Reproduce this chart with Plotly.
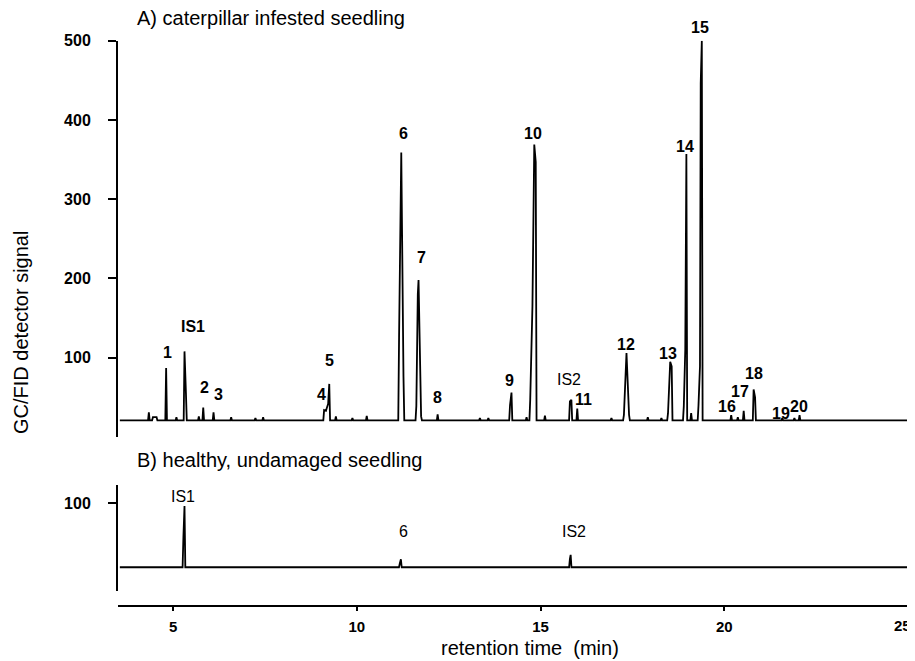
import plotly.graph_objects as go

# ---------------- data ----------------
# Panel A: caterpillar infested seedling (retention time in min, signal)
infested_rt = [4.34, 4.45, 4.55, 4.81, 5.09, 5.31, 5.35, 5.70, 5.82, 6.10, 6.58, 7.24, 7.45,
               9.11, 9.16, 9.22, 9.25, 9.43, 9.88, 10.27,
               11.15, 11.21, 11.27, 11.62, 11.66, 11.68, 11.75, 12.20, 13.35, 13.58,
               14.17, 14.21, 14.62, 14.72, 14.78, 14.83, 14.87, 15.12,
               15.80, 15.84, 16.00, 16.93, 17.27, 17.34, 17.41, 17.92, 18.29,
               18.47, 18.53, 18.57, 18.90, 18.94, 18.97, 19.10,
               19.30, 19.34, 19.36, 19.39, 20.19, 20.37, 20.53, 20.80, 20.84,
               21.58, 21.91, 22.05]
infested_signal = [31, 25, 25, 87, 25, 108, 54, 26, 37, 31, 25, 24, 25,
                   34, 33, 42, 67, 26, 24, 26.5,
                   126, 359, 76, 39, 180, 198, 26, 28.6, 24, 24,
                   40, 56, 25, 47.5, 165, 369, 347, 27,
                   45, 47, 36, 24, 28, 106, 28, 25, 24,
                   30, 95, 89, 39, 111, 357, 30,
                   40, 89, 446, 500, 27.7, 25, 33, 60, 50,
                   24, 24, 27.7]
infested_baseline = 21.0

# Panel B: healthy, undamaged seedling
healthy_rt = [5.28, 5.31, 11.17, 11.20, 15.80, 15.82]
healthy_signal = [57, 96.6, 24, 29.4, 30, 35]
healthy_baseline = 19.3

run_start, run_end = 3.55, 25.0
peak_halfwidth = 0.022  # min

# peak labels
labels_a = ["1", "IS1", "2", "3", "4", "5", "6", "7", "8", "9", "10", "IS2", "11",
            "12", "13", "14", "15", "16", "17", "18", "19", "20"]
labels_a_rt = [4.84, 5.53, 5.85, 6.24, 9.05, 9.27, 11.27, 11.77, 12.20, 14.15, 14.80, 15.77,
               16.16, 17.34, 18.47, 18.92, 19.35, 20.08, 20.44, 20.80, 21.55, 22.03]
labels_a_signal = [107, 139, 63, 54, 54, 96, 383, 227, 50, 71, 383, 73,
                   47, 117, 105, 367, 517, 38, 57, 80, 30, 38]

labels_b = ["IS1", "6", "IS2"]
labels_b_rt = [5.28, 11.27, 15.90]
labels_b_signal = [108, 64, 64]

y_ticks_a = [100, 200, 300, 400, 500]
y_ticks_b = [100]
x_ticks = [5, 10, 15, 20, 25]
x_tick_text = ["5", "10", "15", "20", "25"]

y_range_a = [0, 500]
y_range_b = [-10.7, 123.1]
x_range = [3.5, 25.002]


def chromatogram(rts, sigs, base):
    xs, ys = [run_start], [base]
    i, n = 0, len(rts)
    while i < n:
        j = i
        while j + 1 < n and rts[j + 1] - rts[j] < 0.1:
            j += 1
        xs.append(rts[i] - peak_halfwidth); ys.append(base)
        for k in range(i, j + 1):
            xs.append(rts[k]); ys.append(sigs[k])
        xs.append(rts[j] + peak_halfwidth); ys.append(base)
        i = j + 1
    xs.append(run_end); ys.append(base)
    return xs, ys


FONT = "Liberation Sans, Arial, sans-serif"
OFF = 8                      # default page body margin
W, H = 915 - OFF, 661 - OFF  # figure size so that the page fits the window
L, R = 118 - OFF, 915 - 908  # plot area spans window x 118..908


def px_x(p):
    """window pixel x -> paper x"""
    return (p - OFF - L) / (W - L - R)


def px_y(p):
    """window pixel y -> paper y"""
    return (H - (p - OFF)) / H


dom_a = [px_y(437), px_y(40.7)]
dom_b = [px_y(591), px_y(485)]
px_per_unit_a = (437 - 40.7) / (y_range_a[1] - y_range_a[0])

fig = go.Figure()
xa, ya = chromatogram(infested_rt, infested_signal, infested_baseline)
fig.add_trace(go.Scatter(x=xa, y=ya, mode="lines", line=dict(color="black", width=1.8),
                         xaxis="x", yaxis="y", showlegend=False, hoverinfo="skip",
                         cliponaxis=False))
xb, yb = chromatogram(healthy_rt, healthy_signal, healthy_baseline)
fig.add_trace(go.Scatter(x=xb, y=yb, mode="lines", line=dict(color="black", width=1.8),
                         xaxis="x2", yaxis="y2", showlegend=False, hoverinfo="skip",
                         cliponaxis=False))

annotations = []
for t, x, y in zip(labels_a, labels_a_rt, labels_a_signal):
    bold = t != "IS2"
    y_in = min(y, y_range_a[1])
    annotations.append(dict(x=x, y=y_in, xref="x", yref="y",
                            yshift=(y - y_in) * px_per_unit_a,
                            text=f"<b>{t}</b>" if bold else t,
                            showarrow=False, font=dict(family=FONT, size=16, color="black"),
                            xanchor="center", yanchor="middle"))
for t, x, y in zip(labels_b, labels_b_rt, labels_b_signal):
    annotations.append(dict(x=x, y=y, xref="x2", yref="y2", text=t,
                            showarrow=False, font=dict(family=FONT, size=16, color="black"),
                            xanchor="center", yanchor="middle"))

# the last x tick label sits at the window edge: draw it right-aligned so it stays visible
last_tick_label = dict(x=px_x(913), y=px_y(625), xref="paper", yref="paper",
                       text=f"<b>{x_tick_text[-1]}</b>", showarrow=False,
                       xanchor="right", yanchor="middle",
                       font=dict(family=FONT, size=15, color="black"))
x_tick_text_axis = x_tick_text[:-1] + [""]

annotations += [
    last_tick_label,
    dict(x=px_x(135), y=px_y(18), xref="paper", yref="paper", text="A) caterpillar infested seedling",
         showarrow=False, xanchor="left", yanchor="middle", font=dict(family=FONT, size=20, color="black")),
    dict(x=px_x(135), y=px_y(460), xref="paper", yref="paper", text="B) healthy, undamaged seedling",
         showarrow=False, xanchor="left", yanchor="middle", font=dict(family=FONT, size=20, color="black")),
    dict(x=px_x(21), y=px_y(333), xref="paper", yref="paper", text="GC/FID detector signal",
         textangle=-90, showarrow=False, xanchor="center", yanchor="middle",
         font=dict(family=FONT, size=20, color="black")),
    dict(x=px_x(530), y=px_y(648), xref="paper", yref="paper", text="retention time  (min)",
         showarrow=False, xanchor="center", yanchor="middle", font=dict(family=FONT, size=20, color="black")),
]

axis_common = dict(showgrid=False, zeroline=False, color="black", linecolor="black",
                   linewidth=2, tickwidth=2, tickcolor="black", automargin=False,
                   ticklabeloverflow="allow")
tick_font_y = dict(family=FONT, size=16, color="black", weight="bold")
tick_font_x = dict(family=FONT, size=15, color="black", weight="bold")

fig.update_layout(
    width=W, height=H,
    margin=dict(l=L, r=R, t=0, b=0, pad=0),
    paper_bgcolor="white", plot_bgcolor="white",
    template="none",
    showlegend=False,
    xaxis=dict(range=x_range, domain=[0, 1], anchor="y", visible=False),
    yaxis=dict(range=y_range_a, domain=dom_a, anchor="x",
               tickvals=y_ticks_a, ticks="outside", ticklen=8, showline=True,
               ticklabelstandoff=14, tickfont=tick_font_y, **axis_common),
    xaxis2=dict(range=x_range, domain=[0, 1], anchor="free", position=px_y(606),
                tickvals=x_ticks, ticktext=x_tick_text_axis, ticks="outside", ticklen=4,
                showline=True, ticklabelstandoff=3, tickfont=tick_font_x, **axis_common),
    yaxis2=dict(range=y_range_b, domain=dom_b, anchor="x2",
                tickvals=y_ticks_b, ticks="outside", ticklen=8, showline=True,
                ticklabelstandoff=14, tickfont=tick_font_y, **axis_common),
    annotations=annotations,
)

fig.write_html("out.html")
